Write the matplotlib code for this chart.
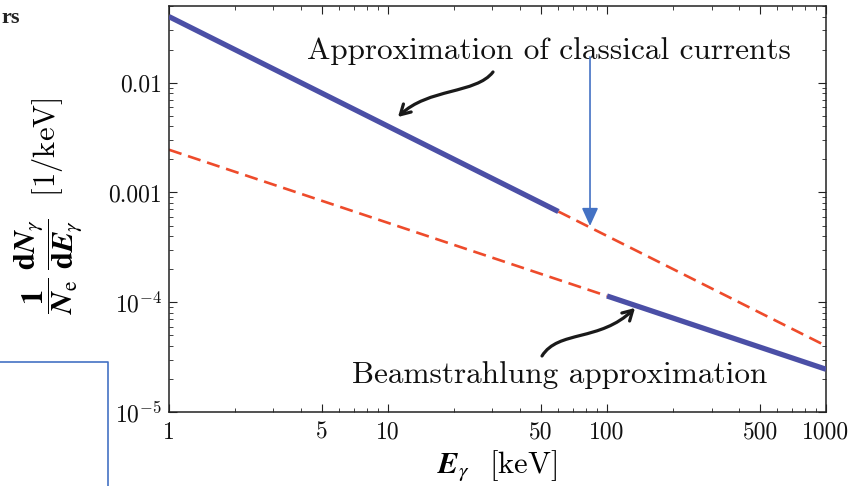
import matplotlib
matplotlib.use('Agg')
import matplotlib.pyplot as plt
from matplotlib.patches import FancyArrowPatch
from matplotlib.path import Path
from matplotlib.lines import Line2D
import numpy as np

plt.rcParams['font.family'] = ['cmr10', 'DejaVu Serif']
plt.rcParams['mathtext.fontset'] = 'cm'
plt.rcParams['axes.formatter.use_mathtext'] = True

# photon energy [keV] and spectrum [1/keV]
classical_E = [1, 60]
classical_y = [0.040, 6.7e-4]
classical_ext_E = [60, 1000]
classical_ext_y = [6.7e-4, 4.0e-5]
beam_ext_E = [1, 100]
beam_ext_y = [2.45e-3, 1.14e-4]
beam_E = [100, 1000]
beam_y = [1.14e-4, 2.45e-5]

xticks = [1, 5, 10, 50, 100, 500, 1000]
xticklabels = ['1', '5', '10', '50', '100', '500', '1000']
yticks = [1e-5, 1e-4, 1e-3, 1e-2]
yticklabels = [r'$10^{-5}$', r'$10^{-4}$', '0.001', '0.01']

blue = '#4B4FA6'
red = '#EE4B2B'
arrow_blue = '#4472C4'
dark = '#222222'

fig = plt.figure(figsize=(8.5, 4.86), dpi=100)
fig.patch.set_facecolor('white')
ax = fig.add_axes([0.1988, 0.1523, 0.773, 0.8354])

ax.plot(beam_ext_E, beam_ext_y, color=red, lw=1.9, ls=(0, (5, 2.6)), zorder=2)
ax.plot(classical_ext_E, classical_ext_y, color=red, lw=1.9, ls=(0, (5, 2.6)), zorder=2)
ax.plot(classical_E, classical_y, color=blue, lw=3.8, solid_capstyle='butt', zorder=3)
ax.plot(beam_E, beam_y, color=blue, lw=3.8, solid_capstyle='butt', zorder=3)

ax.set_xscale('log')
ax.set_yscale('log')
ax.set_xlim(1, 1000)
ax.set_ylim(1e-5, 0.05)
ax.set_xticks(xticks)
ax.set_xticklabels(xticklabels)
ax.set_yticks(yticks)
ax.set_yticklabels(yticklabels)
ax.tick_params(which='both', direction='in', top=True, right=True, color=dark,
               labelsize=17, labelcolor='#111111')
ax.tick_params(which='major', length=6, width=0.8)
ax.tick_params(which='minor', length=3, width=0.6)
ax.tick_params(axis='x', pad=7)
ax.tick_params(axis='y', pad=5)
for s in ax.spines.values():
    s.set_color(dark)
    s.set_linewidth(1.1)

ax.set_xlabel(r'$\mathbfit{E}_{\gamma}$  [keV]', fontsize=22, labelpad=4,
              math_fontfamily='stix')

fig.text(0.056, 0.576,
         r'$\dfrac{\mathbf{1}}{\mathbfit{N}_{\mathrm{e}}}\;'
         r'\dfrac{\mathbf{d}\mathbfit{N}_{\gamma}}{\mathbf{d}\mathbfit{E}_{\gamma}}$  [1/keV]',
         rotation=90, ha='center', va='center', fontsize=22, math_fontfamily='stix')

# annotations
ax.text(0.578, 0.89, 'Approximation of classical currents', transform=ax.transAxes,
        ha='center', va='center', fontsize=22.5, color='#111111')
ax.text(0.595, 0.09, 'Beamstrahlung approximation', transform=ax.transAxes,
        ha='center', va='center', fontsize=22.5, color='#111111')


def px2ax(px, py):
    return ((px - 169) / 657.0, (412 - py) / 406.0)


def curly(points):
    verts = [px2ax(*p) for p in points]
    path = Path(verts, [Path.MOVETO, Path.CURVE4, Path.CURVE4, Path.CURVE4])
    a = FancyArrowPatch(path=path, arrowstyle='->,head_length=7,head_width=4',
                        color='#1a1a1a', lw=2.3, transform=ax.transAxes,
                        capstyle='round', joinstyle='round', zorder=5)
    ax.add_patch(a)


curly([(493, 72), (476, 94), (428, 88), (398, 117)])
curly([(542, 356), (558, 330), (600, 342), (635, 308)])

ax.annotate('', xy=px2ax(590, 226), xytext=px2ax(590, 57),
            xycoords='axes fraction', textcoords='axes fraction',
            arrowprops=dict(arrowstyle='-|>,head_length=1.1,head_width=0.5',
                            color=arrow_blue, lw=1.2, shrinkA=0, shrinkB=0),
            zorder=6)

# fragments of the surrounding page
fig.text(0.002, 1 - 18 / 486, 'rs', fontsize=16, family='Liberation Serif',
         fontweight='bold', ha='left', va='center', color='#222222')
fig.add_artist(Line2D([0, 108 / 850, 108 / 850], [1 - 362 / 486, 1 - 362 / 486, 0],
                      transform=fig.transFigure, color=arrow_blue, lw=1.2))

plt.savefig('out.png', dpi=100, facecolor='white')
